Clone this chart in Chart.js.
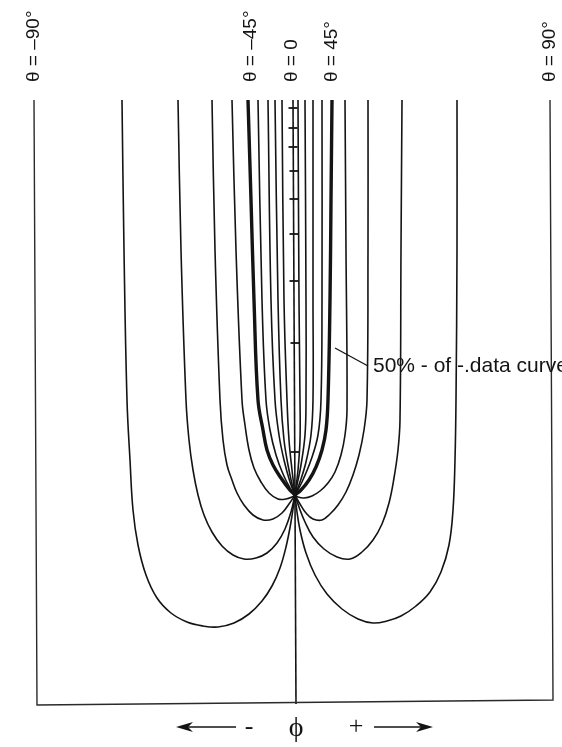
<!DOCTYPE html>
<html lang="en">
<head>
  <meta charset="UTF-8">
  <title>Contours vs phi</title>
  <style>
    body {
      margin: 0;
      background: #fff;
    }
    .chart-container {
      position: relative;
      width: 562px;
      height: 747px;
    }
  </style>
</head>
<body>
  <div class="chart-container">
    <canvas id="curveChart"></canvas>
  </div>

  <script src="https://cdn.jsdelivr.net/npm/chart.js"></script>
  <script>
    // x = phi (centre line at 0), y = height above the base line
    const frameLine = [[-260, 604], [-257, -1], [259, 4], [256, 604]];
    const centreLine = [[-1, 604], [2, 0]];
    const centreTicks = [[-1, 596], [-1, 576], [-1, 557], [0, 533], [0, 505], [0, 470], [0, 423], [1, 361], [1, 252]];

    // left family (theta < 0), outermost first
    const left1 = [[-172, 604], [-170, 454], [-167, 304], [-164, 244], [-161, 194], [-156, 159], [-148, 129], [-137, 106], [-123, 91], [-107, 82], [-91, 78], [-76, 77], [-60, 81], [-45, 90], [-32, 103], [-22, 118], [-14, 136], [-8, 157], [-3, 182], [1, 209]];
    const left2 = [[-116, 604], [-113, 454], [-108, 304], [-105, 264], [-101, 234], [-96, 209], [-90, 189], [-82, 172], [-72, 158], [-61, 149], [-50, 145], [-38, 146], [-27, 151], [-17, 161], [-9, 175], [-3, 192], [1, 209]];
    const left3 = [[-82, 604], [-79, 454], [-74, 304], [-71, 264], [-67, 239], [-62, 224], [-57, 211], [-50, 199], [-41, 189], [-31, 184], [-21, 185], [-12, 191], [-5, 200], [1, 209]];
    const left4 = [[-62, 604], [-58, 454], [-52, 304], [-49, 279], [-45, 254], [-40, 236], [-33, 222], [-25, 211], [-16, 205], [-8, 205], [-2, 207], [1, 209]];
    const left5 = [[-46, 604], [-43, 504], [-40, 404], [-36, 304], [-31, 274], [-27, 254], [-21, 239], [-13, 226], [-5, 215], [1, 209]];
    const left6 = [[-36, 604], [-32, 404], [-28, 304], [-24, 274], [-18, 249], [-11, 230], [-4, 216], [1, 209]];
    const left7 = [[-26, 604], [-23, 404], [-19, 304], [-15, 269], [-10, 244], [-4, 222], [1, 209]];
    const left8 = [[-19, 604], [-16, 404], [-13, 304], [-10, 264], [-6, 239], [-2, 220], [1, 209]];
    const left9 = [[-12, 604], [-10, 404], [-7, 304], [-5, 264], [-2, 234], [1, 209]];

    // right family (theta > 0), innermost first
    const right9 = [[4, 604], [5, 404], [6, 304], [6, 264], [4, 234], [1, 209]];
    const right8 = [[11, 604], [12, 404], [12, 304], [11, 269], [7, 239], [3, 219], [1, 209]];
    const right7 = [[19, 604], [19, 404], [19, 304], [17, 269], [12, 242], [6, 222], [1, 209]];
    const right6 = [[28, 604], [28, 404], [27, 304], [24, 269], [17, 244], [8, 222], [1, 209]];
    const right5 = [[38, 604], [37, 504], [36, 404], [34, 304], [32, 274], [28, 254], [22, 237], [15, 224], [7, 214], [1, 209]];
    const right4 = [[51, 604], [52, 454], [53, 294], [51, 269], [47, 249], [41, 232], [34, 221], [26, 213], [18, 208], [10, 206], [4, 207], [1, 209]];
    const right3 = [[74, 604], [74, 454], [73, 304], [70, 274], [65, 249], [59, 229], [52, 212], [44, 199], [36, 190], [28, 184], [19, 185], [12, 191], [6, 200], [1, 209]];
    const right2 = [[108, 604], [107, 454], [106, 284], [104, 254], [100, 226], [95, 201], [88, 180], [79, 164], [68, 152], [56, 145], [43, 147], [30, 155], [19, 167], [11, 182], [5, 197], [1, 209]];
    const right1 = [[163, 604], [163, 454], [162, 304], [161, 244], [159, 194], [155, 159], [147, 132], [136, 112], [122, 98], [107, 88], [93, 83], [79, 81], [64, 85], [48, 95], [33, 110], [21, 129], [12, 151], [6, 174], [3, 192], [1, 209]];

    // theta labels sit above the top of their curves
    const thetaLabels = ['\u03b8 = \u201390\u00b0', '\u03b8 = \u201345\u00b0', '\u03b8 = 0', '\u03b8 = 45\u00b0', '\u03b8 = 90\u00b0'];
    const thetaLabelX = [-260, -43, -2, 38, 256];
    const labelTopY = 622;

    const toPoints = arr => arr.map(p => ({ x: p[0], y: p[1] }));
    const ink = '#141414';

    function curve(arr, width) {
      return {
        data: toPoints(arr),
        showLine: true,
        borderColor: ink,
        borderWidth: width || 1.6,
        pointRadius: 0,
        tension: 0.4,
        clip: false
      };
    }

    const datasets = [
      { data: toPoints(frameLine), showLine: true, borderColor: '#2a2a2a', borderWidth: 1.4, pointRadius: 0, tension: 0, clip: false },
      { data: toPoints(centreLine), showLine: true, borderColor: ink, borderWidth: 1.6, pointRadius: 0, tension: 0, clip: false },
      { data: toPoints(centreTicks), showLine: false, pointStyle: 'line', pointRadius: 4.5, borderColor: ink, borderWidth: 1.8 },
      curve(left1), curve(left2), curve(left3), curve(left4), curve(left5, 3.4),
      curve(left6), curve(left7), curve(left8), curve(left9),
      curve(right9), curve(right8), curve(right7), curve(right6), curve(right5, 3.4),
      curve(right4), curve(right3), curve(right2), curve(right1)
    ];

    // text, leader line and the phi arrows
    const annotations = {
      id: 'annotations',
      afterDatasetsDraw(chart) {
        const ctx = chart.ctx;
        const xs = chart.scales.x;
        const ys = chart.scales.y;
        ctx.save();
        ctx.fillStyle = ink;
        ctx.strokeStyle = ink;

        // rotated theta labels
        ctx.font = '19px "Liberation Sans", Arial, sans-serif';
        ctx.textBaseline = 'middle';
        ctx.textAlign = 'left';
        thetaLabels.forEach((t, i) => {
          ctx.save();
          ctx.translate(xs.getPixelForValue(thetaLabelX[i]), ys.getPixelForValue(labelTopY));
          ctx.rotate(-Math.PI / 2);
          ctx.fillText(t, 0, 0);
          ctx.restore();
        });

        // 50% curve callout
        ctx.lineWidth = 1.3;
        ctx.beginPath();
        ctx.moveTo(xs.getPixelForValue(41), ys.getPixelForValue(356));
        ctx.lineTo(xs.getPixelForValue(74), ys.getPixelForValue(338));
        ctx.stroke();
        ctx.font = '21px "Liberation Sans", Arial, sans-serif';
        ctx.fillText('50% - of -.data curve', xs.getPixelForValue(79), ys.getPixelForValue(338));

        // phi axis caption
        const yc = ys.getPixelForValue(-23);
        ctx.font = '28px "Liberation Serif", "DejaVu Serif", serif';
        ctx.textAlign = 'center';
        ctx.fillText('\u03d5', xs.getPixelForValue(2), ys.getPixelForValue(-25));
        ctx.font = '26px "Liberation Serif", "DejaVu Serif", serif';
        ctx.fillText('-', xs.getPixelForValue(-45), yc);
        ctx.fillText('+', xs.getPixelForValue(62), yc);

        function arrow(from, to) {
          const x0 = xs.getPixelForValue(from);
          const x1 = xs.getPixelForValue(to);
          const dir = Math.sign(x1 - x0);
          ctx.lineWidth = 1.4;
          ctx.beginPath();
          ctx.moveTo(x0, yc);
          ctx.lineTo(x1 - dir * 10, yc);
          ctx.stroke();
          ctx.beginPath();
          ctx.moveTo(x1, yc);
          ctx.lineTo(x1 - dir * 17, yc - 5);
          ctx.lineTo(x1 - dir * 12, yc);
          ctx.lineTo(x1 - dir * 17, yc + 5);
          ctx.closePath();
          ctx.fill();
        }
        arrow(-58, -118);
        arrow(80, 139);

        ctx.restore();
      }
    };

    new Chart(document.getElementById('curveChart'), {
      type: 'scatter',
      data: { datasets: datasets },
      options: {
        responsive: true,
        maintainAspectRatio: false,
        animation: false,
        layout: { padding: 0, autoPadding: false },
        plugins: {
          legend: { display: false },
          tooltip: { enabled: false }
        },
        scales: {
          x: { type: 'linear', min: -294, max: 268, display: false },
          y: { type: 'linear', min: -43, max: 704, display: false }
        }
      },
      plugins: [annotations]
    });
  </script>
</body>
</html>
